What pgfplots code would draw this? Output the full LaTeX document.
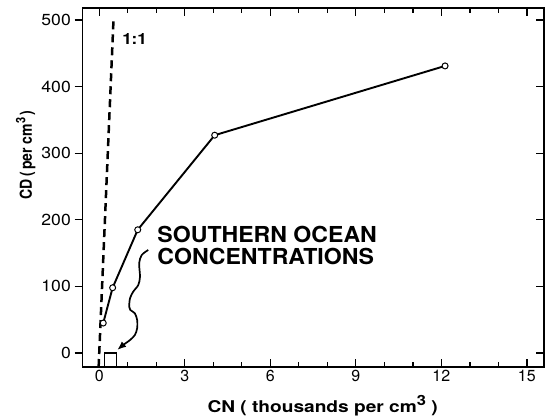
\documentclass[border=0pt]{standalone}
\usepackage{pgfplots}
\pgfplotsset{compat=1.18}
\usepackage{fontspec}
\setmainfont{TeX Gyre Heros}
\usetikzlibrary{arrows.meta}
\begin{document}
\begin{tikzpicture}
\pgfplotsset{
  common/.style={
    scale only axis, width=461.3pt, height=359pt,
    xmin=-0.58, xmax=15.6, ymin=-21, ymax=518,
    axis line style={line width=1.6pt},
    every tick/.style={line width=1.3pt, black},
    major tick length=8pt, minor tick length=5pt,
  }
}
\begin{axis}[common,
  xtick={0,3,...,15}, minor xtick={1,2,4,5,7,8,10,11,13,14},
  xtick pos=both, xtick align=inside,
  ytick={0,100,...,500}, ytick pos=left, ytick align=outside,
  xticklabel style={font=\fontsize{16}{16}\selectfont},
  yticklabel style={font=\fontsize{16}{16}\selectfont, xscale=1.1},
  /pgf/number format/assume math mode=true,
  clip=false,
]
% 1:1 line
\addplot[black, line width=2.5pt, dash pattern=on 8pt off 5pt] coordinates {(-0.021,-21) (0.5,500)};
% data
\addplot[black, line width=1.9pt, mark=*, mark size=3pt,
  mark options={fill=white, draw=black, line width=1pt, solid}]
  coordinates {(0.14,45) (0.47,98) (1.35,185) (4.05,327) (12.13,431)};
% Southern Ocean box
\addplot[black, line width=1.5pt] coordinates {(0.18,-21) (0.18,0) (0.61,0) (0.61,-21)};
% wavy arrow
\addplot[black, line width=1.7pt, smooth, -{Latex[length=9pt,width=7pt]}] coordinates {
 (1.72,154.7) (1.49,147.1) (1.40,134.7) (1.43,114.6) (1.37,102.1) (1.19,92.0)
 (1.08,82.1) (1.05,69.5) (1.09,64.6) (1.25,59.6) (1.33,49.5) (1.33,37.1)
 (1.25,27.0) (1.08,19.5) (0.84,12.0) (0.63,4.5)};
\node[anchor=west, font=\fontsize{15.5}{15.5}\selectfont\bfseries, inner sep=0pt, xscale=1.1] at (axis cs:0.8,472) {1:1};
\node[anchor=base west, font=\fontsize{22}{22}\selectfont\bfseries, inner sep=0pt, xscale=1.05] at (axis cs:2.035,166.2) {SOUTHERN OCEAN};
\node[anchor=base west, font=\fontsize{22}{22}\selectfont\bfseries, inner sep=0pt, xscale=1.05] at (axis cs:2.035,133.2) {CONCENTRATIONS};
\node[anchor=base, inner sep=0pt, font=\fontsize{16.2}{16.2}\selectfont\bfseries, xscale=1.18] at (axis description cs:0.52,-0.128)
  {CN ( thousands per cm{\fontsize{14}{14}\selectfont\raisebox{0.5em}{3}} )};
\node[anchor=base, rotate=90, inner sep=0pt, font=\fontsize{16.5}{16.5}\selectfont\bfseries] at (axis description cs:-0.11,0.59)
  {\scalebox{0.85}[1]{CD\,(\,per cm{\fontsize{13}{13}\selectfont\raisebox{0.5em}{3}}\,)}};
\end{axis}
\begin{axis}[common,
  xtick=\empty, ytick={0,100,...,500}, ytick pos=right, ytick align=inside,
  yticklabels={},
]
\end{axis}
\pgfresetboundingbox
\path (-82.7pt,-52pt) rectangle (469.3pt,367pt);
\end{tikzpicture}
\end{document}
